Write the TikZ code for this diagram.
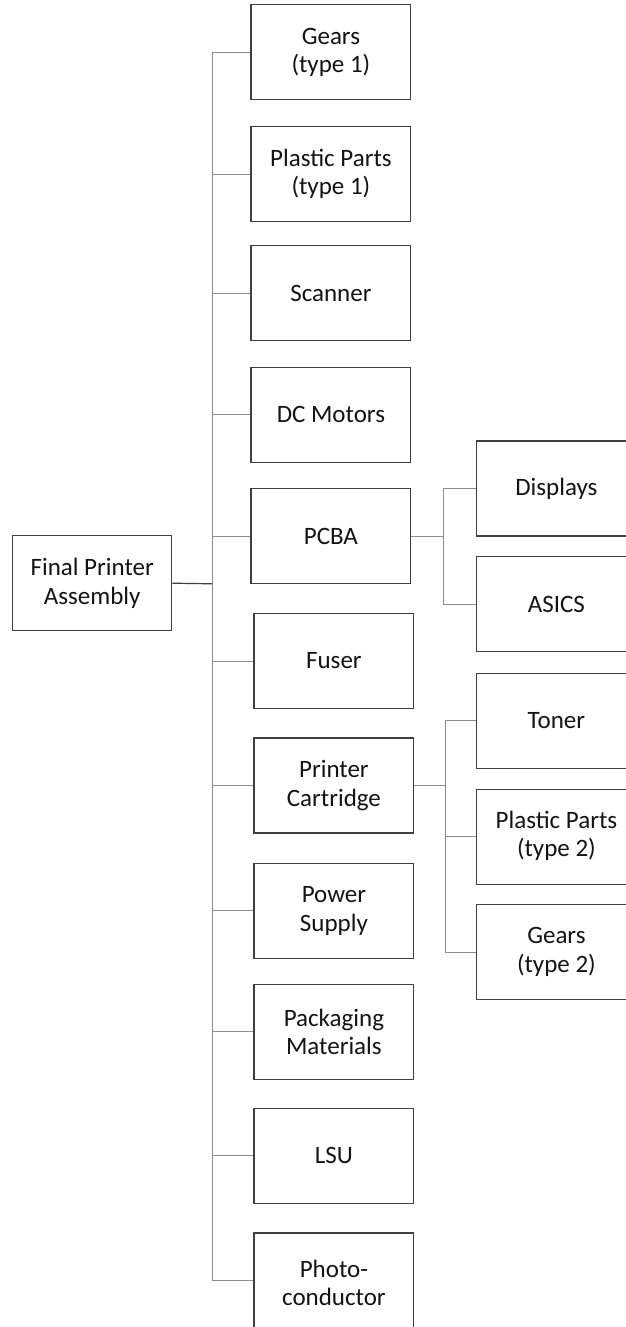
\documentclass[tikz,border=0pt]{standalone}
\usepackage{fontspec}
\setmainfont{Carlito}
\definecolor{boxline}{HTML}{404040}
\definecolor{connline}{HTML}{8C8C8C}
\definecolor{txt}{HTML}{141414}
\begin{document}
\begin{tikzpicture}[x=1pt,y=-1pt,
  part/.style={draw=boxline,line width=1.4pt,fill=white,minimum width=159.5pt,minimum height=95pt,
    inner sep=0pt,align=center,text=txt,font=\fontsize{25}{28.5}\selectfont},
  wide/.style={part,minimum width=180pt},
  conn/.style={draw=connline,line width=1pt},
  mainconn/.style={draw=boxline,line width=1.2pt}]
\useasboundingbox (0,0) rectangle (626,1327);
\clip (0,0) rectangle (626,1327);
% root
\node[part,minimum width=159pt] (final) at (92.2,583.2) {Final Printer\\Assembly};
% first level, upper group
\node[part] (gears1) at (330.9,52.2) {Gears\\(type 1)};
\node[part] (plastic1) at (330.9,174) {Plastic Parts\\(type 1)};
\node[part] (scanner) at (330.9,293.2) {Scanner};
\node[part] (dcm) at (330.9,414.8) {DC Motors};
\node[part] (pcba) at (330.9,536.2) {PCBA};
% first level, lower group
\node[part] (fuser) at (333.9,661) {Fuser};
\node[part] (cart) at (333.9,785.5) {Printer\\Cartridge};
\node[part] (power) at (333.9,910.8) {Power\\Supply};
\node[part] (pack) at (333.9,1031.8) {Packaging\\Materials};
\node[part] (lsu) at (333.9,1155.7) {LSU};
\node[part,minimum height=105pt] (photo) at (333.9,1285.5) {\raisebox{4pt}{\begin{tabular}{@{}c@{}}Photo-\\[-0.5pt]conductor\end{tabular}}};
% second level (right edges run past the picture edge)
\node[wide,anchor=west] (displays) at (475.7,488.4) {\hspace*{-20pt}Displays};
\node[wide,anchor=west] (asics) at (475.7,604.2) {\hspace*{-20pt}ASICS};
\node[wide,anchor=west] (toner) at (475.7,720.8) {\hspace*{-20pt}Toner};
\node[wide,anchor=west] (plastic2) at (475.7,836.8) {\hspace*{-20pt}\begin{tabular}{@{}c@{}}Plastic Parts\\(type 2)\end{tabular}};
\node[wide,anchor=west] (gears2) at (475.7,952.2) {\hspace*{-20pt}\begin{tabular}{@{}c@{}}Gears\\(type 2)\end{tabular}};
% junctions
\coordinate (j) at (212.8,583.8);
\coordinate (jp) at (443.3,536.2);
\coordinate (jc) at (445,785.5);
% connectors
\draw[mainconn] (final.east) -- (j);
\foreach \n in {gears1,plastic1,scanner,dcm,pcba,fuser,cart,power,pack,lsu}
  \draw[conn] (j) |- (\n.west);
\draw[conn] (j) |- ([yshift=5pt]photo.west);
\draw[conn] (pcba.east) -- (jp);
\draw[conn] (jp) |- (displays.west);
\draw[conn] (jp) |- (asics.west);
\draw[conn] (cart.east) -- (jc);
\draw[conn] (jc) |- (toner.west);
\draw[conn] (jc) |- (plastic2.west);
\draw[conn] (jc) |- (gears2.west);
\end{tikzpicture}
\end{document}
